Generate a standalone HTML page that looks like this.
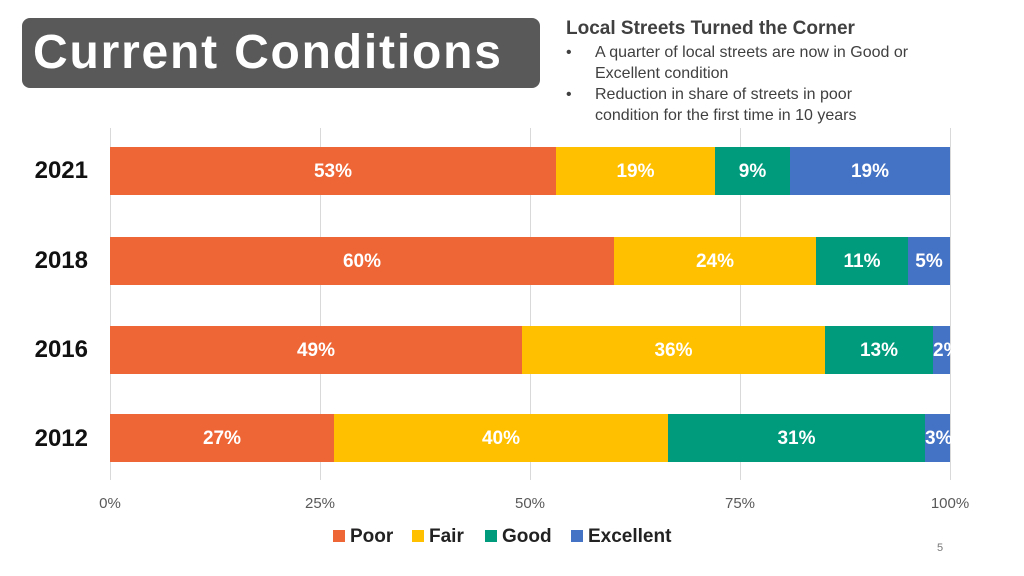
<!DOCTYPE html>
<html><head><meta charset="utf-8"><style>
body{margin:0;width:1024px;height:576px;background:#fff;position:relative;overflow:hidden;font-family:"Liberation Sans",sans-serif}
.abs{position:absolute}
.title{left:22px;top:18px;width:518px;height:70px;background:#595959;border-radius:8px;color:#fff;font-size:48px;font-weight:bold;line-height:70px;padding-left:11px;box-sizing:border-box;letter-spacing:1.8px}
.h{left:566px;top:18px;font-size:19px;font-weight:bold;color:#404040}
.b{left:566px;font-size:16px;color:#404040;line-height:20.5px}
.b span{position:absolute;left:29px;white-space:nowrap;top:0}
.grid{top:128px;width:1px;height:352px;background:#d9d9d9}
.yl{left:0;width:88px;text-align:right;font-size:24px;font-weight:bold;color:#111}
.seg{position:absolute;height:48px;color:#fff;font-size:19px;font-weight:bold;line-height:50px;text-align:center;overflow:visible;white-space:nowrap}
.tk{top:495px;font-size:15px;color:#595959;width:60px;text-align:center}
.lg{top:526px;font-size:19px;font-weight:bold;color:#222}
.sw{display:inline-block;width:12px;height:12px;margin-right:5px}
</style></head><body>
<div class="abs title">Current Conditions</div>
<div class="abs h">Local Streets Turned the Corner</div>
<div class="abs b" style="top:43px">•<span>A quarter of local streets are now in Good or<br>Excellent condition</span></div>
<div class="abs b" style="top:85px">•<span>Reduction in share of streets in poor<br>condition for the first time in 10 years</span></div>
<div class="abs grid" style="left:110px"></div><div class="abs grid" style="left:320px"></div><div class="abs grid" style="left:530px"></div><div class="abs grid" style="left:740px"></div><div class="abs grid" style="left:950px"></div>

<div class="abs yl" style="top:157px">2021</div>
<div class="seg" style="top:147px;left:110px;width:446px;background:#EE6636">53%</div>
<div class="seg" style="top:147px;left:556px;width:159px;background:#FFC000">19%</div>
<div class="seg" style="top:147px;left:715px;width:75px;background:#009B7D">9%</div>
<div class="seg" style="top:147px;left:790px;width:160px;background:#4472C4">19%</div>

<div class="abs yl" style="top:247px">2018</div>
<div class="seg" style="top:237px;left:110px;width:504px;background:#EE6636">60%</div>
<div class="seg" style="top:237px;left:614px;width:202px;background:#FFC000">24%</div>
<div class="seg" style="top:237px;left:816px;width:92px;background:#009B7D">11%</div>
<div class="seg" style="top:237px;left:908px;width:42px;background:#4472C4">5%</div>

<div class="abs yl" style="top:336px">2016</div>
<div class="seg" style="top:326px;left:110px;width:412px;background:#EE6636">49%</div>
<div class="seg" style="top:326px;left:522px;width:303px;background:#FFC000">36%</div>
<div class="seg" style="top:326px;left:825px;width:108px;background:#009B7D">13%</div>
<div class="seg" style="top:326px;left:933px;width:17px;background:#4472C4">2%</div>

<div class="abs yl" style="top:425px">2012</div>
<div class="seg" style="top:414px;left:110px;width:224px;background:#EE6636">27%</div>
<div class="seg" style="top:414px;left:334px;width:334px;background:#FFC000">40%</div>
<div class="seg" style="top:414px;left:668px;width:257px;background:#009B7D">31%</div>
<div class="seg" style="top:414px;left:925px;width:25px;background:#4472C4">3%</div>

<div class="abs tk" style="left:80px">0%</div><div class="abs tk" style="left:290px">25%</div><div class="abs tk" style="left:500px">50%</div><div class="abs tk" style="left:710px">75%</div><div class="abs tk" style="left:920px">100%</div>

<div class="abs lg" style="left:333px"><span class="sw" style="background:#EE6636"></span>Poor</div>
<div class="abs lg" style="left:412px"><span class="sw" style="background:#FFC000"></span>Fair</div>
<div class="abs lg" style="left:485px"><span class="sw" style="background:#009B7D"></span>Good</div>
<div class="abs lg" style="left:571px"><span class="sw" style="background:#4472C4"></span>Excellent</div>
<div class="abs" style="left:937px;top:542px;font-size:11px;color:#777">5</div>
</body></html>
